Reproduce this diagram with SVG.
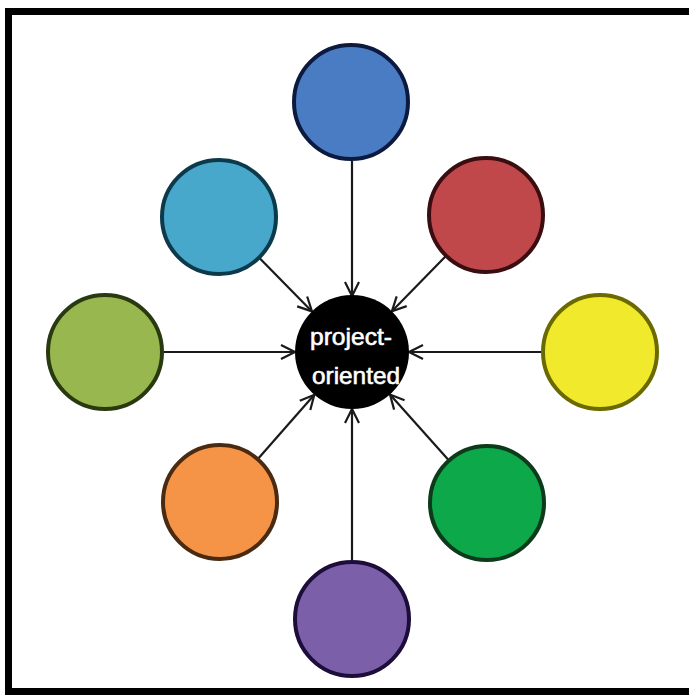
<svg xmlns="http://www.w3.org/2000/svg" width="689" height="696" viewBox="0 0 689 696">
<style>
.node{stroke-width:4}
.conn line{stroke:#1a1a1a;stroke-width:2.2;fill:none}
.lbl{font-family:"Liberation Sans",Arial,sans-serif;font-size:24px;fill:#ffffff;stroke:#ffffff;stroke-width:0.6;text-anchor:middle}
</style>
<defs>
<marker id="ah" markerUnits="userSpaceOnUse" markerWidth="20" markerHeight="20" viewBox="-16 -10 18 20" refX="0" refY="0" orient="auto">
<path d="M-14,-7 L0,0 L-14,7" fill="none" stroke="#1a1a1a" stroke-width="2.2"/>
</marker>
</defs>
<rect x="0" y="0" width="689" height="696" fill="#ffffff"/>
<rect x="8.5" y="11.5" width="690" height="680" fill="none" stroke="#000" stroke-width="7"/>
<g id="connectors" class="conn">
<line x1="352" y1="161" x2="352" y2="296" marker-end="url(#ah)"/>
<line x1="352" y1="560" x2="352" y2="409" marker-end="url(#ah)"/>
<line x1="164" y1="352" x2="295" y2="352" marker-end="url(#ah)"/>
<line x1="541" y1="352" x2="409" y2="352" marker-end="url(#ah)"/>
<line x1="259.7" y1="258.3" x2="312" y2="311.4" marker-end="url(#ah)"/>
<line x1="445.4" y1="256.5" x2="391.9" y2="311.2" marker-end="url(#ah)"/>
<line x1="258.3" y1="458.4" x2="314.3" y2="394.8" marker-end="url(#ah)"/>
<line x1="448.3" y1="459.7" x2="390" y2="394.5" marker-end="url(#ah)"/>
</g>
<g id="node-blue"><circle class="node" cx="351" cy="102" r="57" fill="#4a7cc4" stroke="#0d1a40"/></g>
<g id="node-red"><circle class="node" cx="486" cy="215" r="57" fill="#c0474a" stroke="#3a0d10"/></g>
<g id="node-yellow"><circle class="node" cx="600" cy="352" r="57" fill="#f0e92c" stroke="#6a6a00"/></g>
<g id="node-green"><circle class="node" cx="487" cy="503" r="57" fill="#0ca84a" stroke="#0d3a1a"/></g>
<g id="node-purple"><circle class="node" cx="352" cy="619" r="57" fill="#7b5fa8" stroke="#1d0d3a"/></g>
<g id="node-orange"><circle class="node" cx="220" cy="502" r="57" fill="#f59447" stroke="#4a2a10"/></g>
<g id="node-olive"><circle class="node" cx="105" cy="352" r="57" fill="#98b84f" stroke="#2a3a10"/></g>
<g id="node-cyan"><circle class="node" cx="219" cy="217" r="57" fill="#47a8cc" stroke="#0d3a4a"/></g>
<g id="node-center">
<circle cx="352" cy="352" r="57" fill="#000"/>
<text class="lbl" x="351" y="345" textLength="82" lengthAdjust="spacingAndGlyphs">project-</text>
<text class="lbl" x="356" y="384" textLength="88" lengthAdjust="spacingAndGlyphs">oriented</text>
</g>
</svg>
